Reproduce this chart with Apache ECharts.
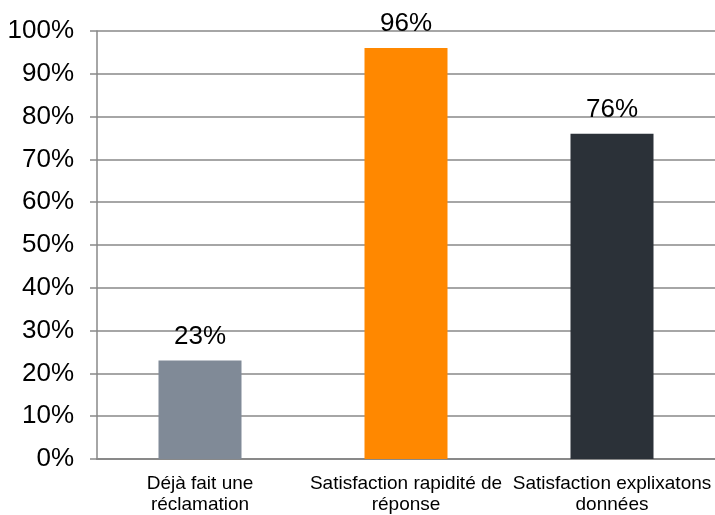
<!DOCTYPE html>
<html>
<head>
    <meta charset="UTF-8">
    <title>Réclamations</title>
    <script src="https://cdn.jsdelivr.net/npm/echarts@6/dist/echarts.min.js"></script>
    <style>
        body { margin: 0; background: #fff; }
        #chart { width: 715px; height: 515px; }
    </style>
</head>
<body>
<div id="chart"></div>
<script>
    // données du graphique
    var categories = ['Déjà fait une\nréclamation', 'Satisfaction rapidité de\nréponse', 'Satisfaction explixatons\ndonnées'];
    var values = [23, 96, 76];
    var colors = ['#808a97', '#ff8800', '#2b3138'];

    var myChart = echarts.init(document.getElementById('chart'));

    var option = {
        animation: false,
        grid: { left: 97, right: 0, top: 31, bottom: 56 },
        xAxis: {
            type: 'category',
            data: categories,
            axisLine: { lineStyle: { color: '#898989', width: 2 } },
            axisTick: { show: false },
            axisLabel: {
                color: '#000',
                fontFamily: 'Liberation Sans',
                fontSize: 19,
                lineHeight: 21,
                margin: 14,
                interval: 0
            }
        },
        yAxis: {
            type: 'value',
            min: 0,
            max: 100,
            interval: 10,
            axisLine: { show: true, lineStyle: { color: '#898989', width: 1.5 } },
            axisTick: { show: true, length: 7, lineStyle: { color: '#898989', width: 1.5 } },
            splitLine: { lineStyle: { color: '#898989', width: 1.5 } },
            axisLabel: {
                color: '#000',
                fontFamily: 'Liberation Sans',
                fontSize: 26,
                margin: 23,
                formatter: '{value}%'
            }
        },
        series: [
            {
                type: 'bar',
                barWidth: 83,
                data: values.map(function (v, i) {
                    return { value: v, itemStyle: { color: colors[i] } };
                }),
                label: {
                    show: true,
                    position: 'top',
                    distance: 11,
                    color: '#000',
                    fontFamily: 'Liberation Sans',
                    fontSize: 26,
                    formatter: '{c}%'
                }
            }
        ]
    };

    myChart.setOption(option);
</script>
</body>
</html>
